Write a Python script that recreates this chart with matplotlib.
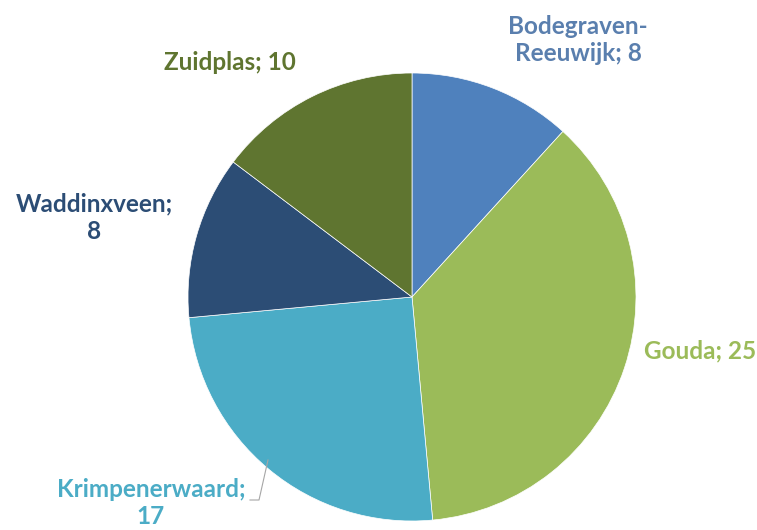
import numpy as np
import matplotlib.pyplot as plt

gemeenten = ['Bodegraven-\nReeuwijk', 'Gouda', 'Krimpenerwaard', 'Waddinxveen', 'Zuidplas']
aantallen = [8, 25, 17, 8, 10]
kleuren = ['#4F81BD', '#9BBB59', '#4BACC6', '#2C4D75', '#5F7530']
tekstkleuren = ['#5A7FAE', '#9BBB59', '#4BACC6', '#2C4D75', '#5F7530']

W, H = 757, 530
fig = plt.figure(figsize=(W / 100, H / 100), dpi=100)
ax = fig.add_axes([0, 0, 1, 1])

cx, cy, r = 412, H - 297, 224
ax.pie(aantallen, colors=kleuren, startangle=90, counterclock=False,
       center=(cx, cy), radius=r, frame=True,
       wedgeprops=dict(linewidth=0.5, edgecolor='white'))
ax.set_xlim(0, W)
ax.set_ylim(0, H)
ax.axis('off')

# labels: "naam; waarde"
pos = [(578, 40), (700, 351), (151, 503), (94, 218), (230, 62)]
splits = [False, False, True, True, False]
for naam, n, kl, (x, y), s in zip(gemeenten, aantallen, tekstkleuren, pos, splits):
    txt = f'{naam};\n{n}' if s else f'{naam}; {n}'
    ax.text(x, H - y, txt, ha='center', va='center', color=kl,
            fontsize=17.5, fontweight='bold', family='Lato', linespacing=1.25)

# leader line Krimpenerwaard
ax.plot([250, 259, 268], [H - 500, H - 500, H - 460], color='#A6A6A6', lw=0.8)

fig.savefig('out.png', dpi=100)
